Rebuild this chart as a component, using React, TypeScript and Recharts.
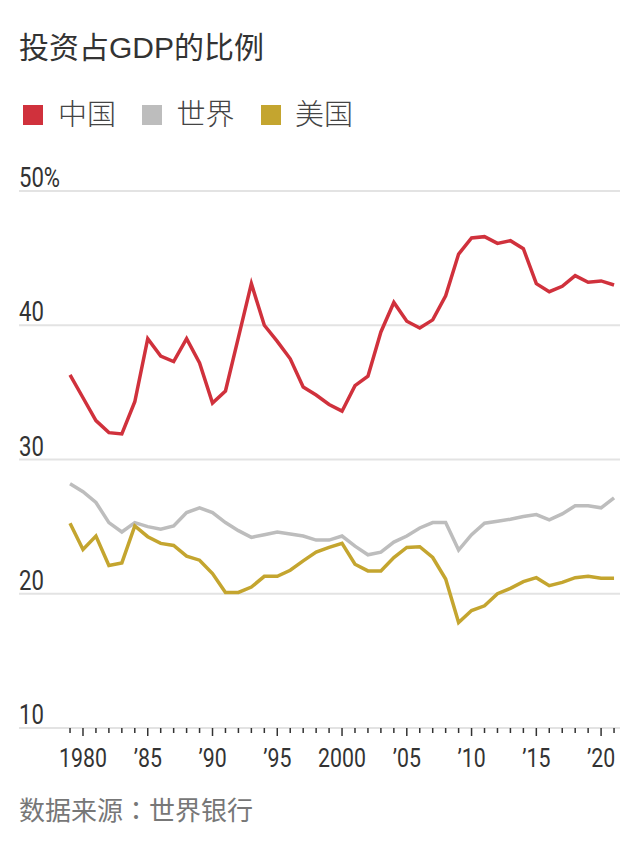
import { CartesianGrid, Line, LineChart, XAxis, YAxis } from 'recharts';

const years = [
  1979, 1980, 1981, 1982, 1983, 1984, 1985, 1986, 1987, 1988, 1989, 1990, 1991, 1992, 1993,
  1994, 1995, 1996, 1997, 1998, 1999, 2000, 2001, 2002, 2003, 2004, 2005, 2006, 2007, 2008,
  2009, 2010, 2011, 2012, 2013, 2014, 2015, 2016, 2017, 2018, 2019, 2020, 2021,
];

const china = [
  36.3, 34.6, 32.9, 32.0, 31.9, 34.3, 39.0, 37.7, 37.3, 39.0, 37.2, 34.2, 35.1, 39.1, 43.1,
  40.0, 38.8, 37.5, 35.4, 34.8, 34.1, 33.6, 35.5, 36.2, 39.5, 41.7, 40.3, 39.8, 40.4, 42.2,
  45.3, 46.5, 46.6, 46.1, 46.3, 45.7, 43.1, 42.5, 42.9, 43.7, 43.2, 43.3, 43.0,
];

const world = [
  28.2, 27.6, 26.8, 25.3, 24.6, 25.3, 25.0, 24.8, 25.05, 26.05, 26.4, 26.05, 25.3, 24.7, 24.2,
  24.4, 24.6, 24.45, 24.3, 24.0, 24.0, 24.3, 23.55, 22.9, 23.1, 23.85, 24.3, 24.9, 25.3, 25.3,
  23.25, 24.4, 25.25, 25.4, 25.55, 25.75, 25.9, 25.5, 25.95, 26.55, 26.55, 26.4, 27.15,
];

const usa = [
  25.25, 23.3, 24.3, 22.1, 22.3, 25.05, 24.25, 23.75, 23.6, 22.8, 22.5, 21.5, 20.1, 20.1, 20.5,
  21.3, 21.3, 21.75, 22.45, 23.1, 23.45, 23.75, 22.2, 21.7, 21.7, 22.7, 23.45, 23.5, 22.7, 21.1,
  17.85, 18.75, 19.1, 20.0, 20.4, 20.9, 21.2, 20.6, 20.85, 21.2, 21.3, 21.15, 21.15,
];

const seriesKeys = ['china', 'world', 'usa'];
const seriesNames = ['中国', '世界', '美国'];
const seriesColors = ['#d0313c', '#bdbdbd', '#c4a52f'];

const yTicks = [10, 20, 30, 40, 50];
const yTickLabels = ['10', '20', '30', '40', '50%'];

const xLabelYears = [1980, 1985, 1990, 1995, 2000, 2005, 2010, 2015, 2020];
const xLabelTexts = ['1980', '’85', '’90', '’95', '2000', '’05', '’10', '’15', '’20'];

const xDomain = [1975.06, 2021.46];
const yDomain = [10, 50];

const data = years.map((year, i) => ({
  year,
  china: china[i],
  world: world[i],
  usa: usa[i],
}));

// no condensed face installed, so Roboto gets squeezed horizontally
const NUM_FONT = 'Roboto, sans-serif';
const NUM_SQUEEZE = 0.82;
const CJK_FONT = '"Liberation Sans", "Noto Sans CJK SC", sans-serif';

function XTick(props: any) {
  const { x, y, payload } = props;
  const idx = xLabelYears.indexOf(payload.value);
  const major = idx >= 0;
  return (
    <g>
      <line x1={x} x2={x} y1={y} y2={y + (major ? 8 : 5)} stroke="#333" strokeWidth={1.5} />
      {major && (
        <text
          transform={`translate(${x},${y + 39}) scale(${NUM_SQUEEZE},1)`}
          textAnchor="middle"
          fontSize={26}
          fontFamily={NUM_FONT}
          fill="#333"
        >
          {xLabelTexts[idx]}
        </text>
      )}
    </g>
  );
}

// labels sit on top of the gridlines, flush with the left edge
function YTick(props: any) {
  const { y, payload } = props;
  const idx = yTicks.indexOf(payload.value);
  return (
    <text
      transform={`translate(19,${y - 4}) scale(${NUM_SQUEEZE},1)`}
      textAnchor="start"
      fontSize={27}
      fontFamily={NUM_FONT}
      fill="#333"
    >
      {yTickLabels[idx]}
    </text>
  );
}

export default function App() {
  return (
    <div
      style={{
        position: 'absolute',
        left: 0,
        top: 0,
        width: 639,
        height: 852,
        background: '#fff',
        overflow: 'hidden',
      }}
    >
      <svg
        width={639}
        height={852}
        style={{ position: 'absolute', left: 0, top: 0, pointerEvents: 'none' }}
      >
        <text x={19} y={58} fontSize={30} fontFamily={CJK_FONT} fill="#333">
          投资占GDP的比例
        </text>
        {seriesNames.map((name, i) => (
          <g key={name}>
            <rect x={23 + i * 119} y={105} width={20} height={20} fill={seriesColors[i]} />
            <text
              x={58 + i * 118.5}
              y={125}
              fontSize={29}
              fontWeight={300}
              fontFamily={CJK_FONT}
              fill="#444"
            >
              {name}
            </text>
          </g>
        ))}
        <text x={19} y={820} fontSize={26} fontFamily={CJK_FONT} fill="#777">
          数据来源
          <tspan fontFamily={'"Noto Sans CJK TC", sans-serif'}>：</tspan>
          世界银行
        </text>
      </svg>
      <div style={{ position: 'absolute', left: 0, top: 0 }}>
        <LineChart
          width={639}
          height={852}
          data={data}
          margin={{ top: 191, right: 19, bottom: 0, left: 18 }}
        >
          <CartesianGrid vertical={false} stroke="#e3e3e3" strokeWidth={2} />
          <XAxis
            dataKey="year"
            type="number"
            domain={xDomain}
            allowDataOverflow
            ticks={years}
            interval={0}
            height={124}
            axisLine={false}
            tickLine={false}
            tickSize={0}
            tickMargin={0}
            tick={<XTick />}
          />
          <YAxis
            type="number"
            domain={yDomain}
            ticks={yTicks}
            interval={0}
            width={1}
            axisLine={false}
            tickLine={false}
            tickSize={0}
            tickMargin={0}
            tick={<YTick />}
          />
          {seriesKeys.map((key, i) => (
            <Line
              key={key}
              type="linear"
              dataKey={key}
              stroke={seriesColors[i]}
              strokeWidth={3.5}
              dot={false}
              activeDot={false}
              isAnimationActive={false}
            />
          ))}
        </LineChart>
      </div>
    </div>
  );
}
